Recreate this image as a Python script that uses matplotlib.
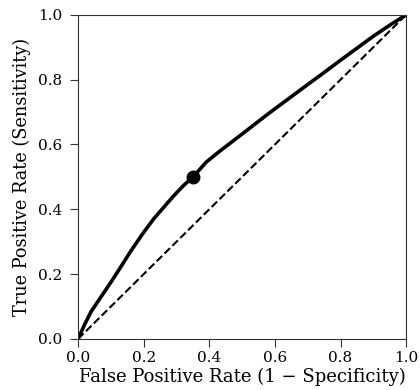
import matplotlib
matplotlib.use("Agg")
import matplotlib.pyplot as plt

# ROC curve points
fpr = [0.0, 0.02, 0.04, 0.07, 0.10, 0.13, 0.16, 0.195, 0.23, 0.26, 0.29, 0.32,
       0.35, 0.37, 0.39, 0.43, 0.51, 0.58, 0.66, 0.70, 0.75, 0.80, 0.85, 0.90,
       0.95, 1.0]
tpr = [0.0, 0.045, 0.085, 0.13, 0.175, 0.222, 0.27, 0.322, 0.37, 0.405, 0.44, 0.472,
       0.50, 0.522, 0.545, 0.578, 0.64, 0.695, 0.755, 0.785, 0.822, 0.86, 0.897, 0.934,
       0.968, 1.0]

# highlighted operating point
op_fpr = [0.35]
op_tpr = [0.50]

ticks = [0.0, 0.2, 0.4, 0.6, 0.8, 1.0]

plt.rcParams['font.family'] = 'DejaVu Serif'

fig = plt.figure(figsize=(4.2, 3.9), dpi=100)
ax = fig.add_axes([0.186, 0.131, 0.781, 0.831])

ax.plot([0, 1], [0, 1], color='black', linestyle='--', linewidth=1.5)
ax.plot(fpr, tpr, color='black', linewidth=2.6, solid_joinstyle='round')
ax.plot(op_fpr, op_tpr, 'o', color='black', markersize=9)

ax.set_xlim(0, 1)
ax.set_ylim(0, 1)
ax.set_xticks(ticks)
ax.set_yticks(ticks)
ax.tick_params(labelsize=11, color='#333333', length=5.5)
ax.tick_params(axis='x', pad=3)
ax.tick_params(axis='y', pad=6)
for s in ax.spines.values():
    s.set_color('#333333')

ax.set_xlabel('False Positive Rate (1 \u2212 Specificity)', fontsize=13, labelpad=2)
ax.set_ylabel('True Positive Rate (Sensitivity)', fontsize=12.8, labelpad=5)

fig.savefig('out.png', dpi=100)
